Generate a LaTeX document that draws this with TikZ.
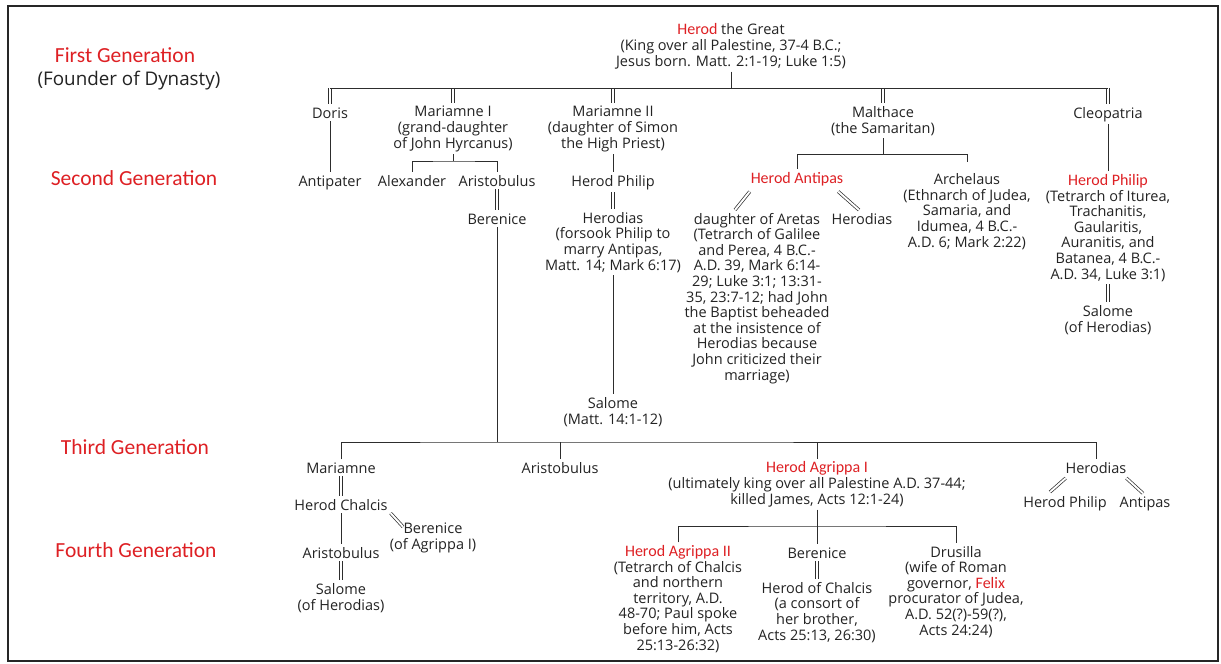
\documentclass[tikz,border=0pt]{standalone}
\usepackage{fontspec}
\setmainfont{Open Sans}
\newfontfamily\calib{Carlito}
\usetikzlibrary{calc}
\definecolor{hred}{RGB}{222,32,36}
\definecolor{ink}{RGB}{35,35,35}
\definecolor{lne}{RGB}{45,45,45}
\newcommand\redname[1]{{\calib\fontsize{16}{18}\selectfont\color{hred}#1}}
\begin{document}
\begin{tikzpicture}[x=1pt,y=-1pt,
  every node/.style={inner sep=0pt, outer sep=3pt},
  t/.style={font=\fontsize{14.5}{15.6}\selectfont, text=ink, align=center, anchor=base},
  nm/.style={font={\calib\fontsize{16}{18}\selectfont}, text=hred, anchor=base},
  gen/.style={font={\calib\fontsize{21.5}{24}\selectfont}, text=hred, anchor=base},
  ln/.style={draw=lne, line width=0.9pt},
  dbl/.style={draw=lne, line width=0.7pt, double=white, double distance=1.9pt},
]
\fill[white] (0,0) rectangle (1221,664);
\useasboundingbox (0,0) rectangle (1221,664);
\draw[line width=1.6pt, draw=black!85] (8,6) rectangle (1218,661);

% generation labels
\node[gen] (g1) at (125,62) {First Generation};
\node[t, font=\fontsize{18.8}{20}\selectfont] (g1b) at (129,85) {(Founder of Dynasty)};
\node[gen] (g2) at (134,185) {Second Generation};
\node[gen] (g3) at (135,454) {Third Generation};
\node[gen] (g4) at (136,557) {Fourth Generation};

% first generation (multi-line nodes are placed by the baseline of their last line)
\node[t] (hg) at (731,66) {\redname{Herod}\ the Great\\(King over all Palestine, 37-4 B.C.;\\Jesus born. Matt. 2:1-19; Luke 1:5)};

% second generation, wives
\node[t] (doris) at (330,118) {Doris};
\node[t] (m1) at (453,148) {Mariamne I\\(grand-daughter\\of John Hyrcanus)};
\node[t] (m2) at (613,148) {Mariamne II\\(daughter of Simon\\the High Priest)};
\node[t] (mal) at (883,133) {Malthace\\(the Samaritan)};
\node[t] (cleo) at (1108,118) {Cleopatria};

\coordinate (b1) at (731,88);
\foreach \n in {doris,m1,m2,mal,cleo} \draw[dbl] (\n.north |- b1) -- (\n.north);
\draw[ln] (doris.north |- b1) -- (cleo.north |- b1);
\draw[ln] (hg.south) -- (b1);

% second generation, children
\node[t] (antipater) at (330,186) {Antipater};
\node[t] (alex) at (412,186) {Alexander};
\node[t] (aristo) at (497,186) {Aristobulus};
\node[t] (ber1) at (497,224) {Berenice};
\node[t] (hphil) at (613,186) {Herod Philip};
\node[t] (hdias1) at (613,270) {Herodias\\(forsook Philip to\\marry Antipas,\\Matt. 14; Mark 6:17)};
\node[t] (salome1) at (613,424) {Salome\\(Matt. 14:1-12)};
\node[nm] (antipas) at (797,183) {Herod Antipas};
\node[t] (aretas) at (757,380) {daughter of Aretas\\(Tetrarch of Galilee\\and Perea, 4 B.C.-\\A.D. 39, Mark 6:14-\\29; Luke 3:1; 13:31-\\35, 23:7-12; had John\\the Baptist beheaded\\at the insistence of\\Herodias because\\John criticized their\\marriage)};
\node[t] (hdias2) at (862,224) {Herodias};
\node[t] (arch) at (967,247) {Archelaus\\(Ethnarch of Judea,\\Samaria, and\\Idumea, 4 B.C.-\\A.D. 6; Mark 2:22)};
\node[t] (hphil2) at (1108,279) {\redname{Herod Philip}\\(Tetrarch of Iturea,\\Trachanitis,\\Gaularitis,\\Auranitis, and\\Batanea, 4 B.C.-\\A.D. 34, Luke 3:1)};
\node[t] (salome2) at (1108,332) {Salome\\(of Herodias)};

\draw[ln] (doris.south) -- (antipater.north);
\coordinate (b2) at (453,161);
\draw[ln] (m1.south) -- (b2);
\draw[ln] (alex.north) |- (b2) -| (aristo.north);
\draw[dbl] (aristo.south) -- (ber1.north);
\draw[ln] (m2.south) -- (hphil.north);
\draw[dbl] (hphil.south) -- (hdias1.north);
\draw[ln] (hdias1.south) -- (salome1.north);
\coordinate (b4) at (883,154);
\draw[ln] (mal.south) -- (b4);
\draw[ln] (antipas.north) |- (b4);
\draw[ln, shorten >=9pt] (b4) -| (arch.north);
\draw[dbl] ($(antipas.south west)+(2,3)$) -- ($(aretas.north)+(-22,0)$);
\draw[dbl] ($(antipas.south east)+(-8,3)$) -- ($(hdias2.north)+(-3,0)$);
\draw[ln] (cleo.south) -- (hphil2.north);
\draw[dbl] (hphil2.south) -- (salome2.north);

% third generation
\node[t] (mar3) at (341,473) {Mariamne};
\node[t] (aris3) at (560,473) {Aristobulus};
\node[t] (agr1) at (817,504) {\redname{Herod Agrippa I}\\(ultimately king over all Palestine A.D. 37-44;\\killed James, Acts 12:1-24)};
\node[t] (hdias3) at (1096,473) {Herodias};
\node[t] (hp3) at (1065,507) {Herod Philip};
\node[t] (ant3) at (1145,507) {Antipas};

\coordinate (b5) at (497,442);
\draw[ln] (ber1.south) -- (b5);
\draw[ln] (mar3.north) |- (b5) -| (hdias3.north);
\draw[ln] (aris3.north |- b5) -- (aris3.north);
\draw[ln] (agr1.north |- b5) -- (agr1.north);
\draw[dbl] ($(hdias3.south west)+(3,2)$) -- ($(hp3.north)+(-15,-1)$);
\draw[dbl] ($(hdias3.south east)+(-3,2)$) -- ($(ant3.north)+(-2,0)$);

% fourth generation
\node[t] (hchal) at (341,510) {Herod Chalcis};
\node[t] (aris4) at (341,558) {Aristobulus};
\node[t] (salome3) at (341,610) {Salome\\(of Herodias)};
\node[t] (ber3) at (433,549) {Berenice\\(of Agrippa I)};
\draw[dbl] (mar3.south) -- (hchal.north);
\draw[ln] (hchal.south) -- (aris4.north);
\draw[dbl] (aris4.south) -- (salome3.north);
\draw[dbl] (hchal.south east) -- ($(ber3.north)+(-30,7)$);

\node[t] (agr2) at (678,650) {\redname{Herod Agrippa II}\\(Tetrarch of Chalcis\\and northern\\territory, A.D.\\48-70; Paul spoke\\before him, Acts\\25:13-26:32)};
\node[t] (ber4) at (817,558) {Berenice};
\node[t] (hoc) at (817,640) {Herod of Chalcis\\(a consort of\\her brother,\\Acts 25:13, 26:30)};
\node[t] (drus) at (956,635) {Drusilla\\(wife of Roman\\governor, \redname{Felix}\\procurator of Judea,\\A.D. 52(?)-59(?),\\Acts 24:24)};
\coordinate (b6) at (817,526);
\draw[ln] (agr1.south) -- (ber4.north);
\draw[ln] (agr2.north) |- (b6) -| (drus.north);
\draw[dbl] (ber4.south) -- (hoc.north);
\end{tikzpicture}
\end{document}
